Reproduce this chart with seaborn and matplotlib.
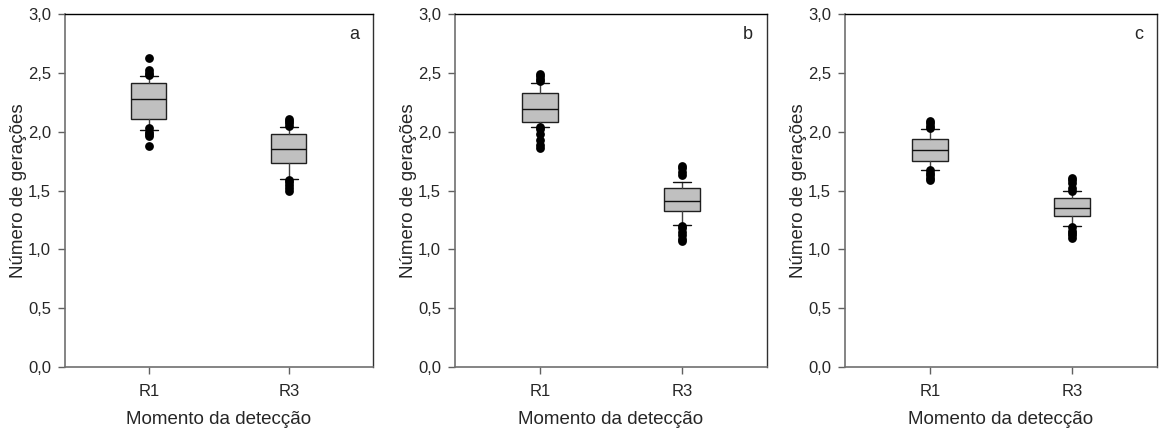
import matplotlib
matplotlib.use("Agg")
import matplotlib.pyplot as plt
import seaborn as sns
import numpy as np
import pandas as pd

sns.set_style("white")
plt.rcParams['font.family'] = ['Liberation Sans', 'DejaVu Sans']

categories = ["R1", "R3"]
panel_labels = ["a", "b", "c"]
y_ticks = [0.0, 0.5, 1.0, 1.5, 2.0, 2.5, 3.0]
y_tick_labels = ["0,0", "0,5", "1,0", "1,5", "2,0", "2,5", "3,0"]

# box statistics per panel: [R1, R3] -> (whislo, q1, med, q3, whishi)
stats_a = [(2.01, 2.11, 2.28, 2.415, 2.47), (1.595, 1.73, 1.85, 1.98, 2.04)]
stats_b = [(2.04, 2.08, 2.19, 2.325, 2.415), (1.21, 1.325, 1.415, 1.52, 1.57)]
stats_c = [(1.67, 1.75, 1.845, 1.935, 2.02), (1.20, 1.28, 1.355, 1.435, 1.495)]

# outliers per panel
out_a_r1 = [2.63, 2.52, 2.50, 2.48, 2.03, 2.00, 1.98, 1.96, 1.88]
out_a_r3 = [2.11, 2.09, 2.07, 2.05, 1.59, 1.57, 1.55, 1.52, 1.50]
out_b_r1 = [2.49, 2.47, 2.45, 2.43, 2.04, 2.02, 1.98, 1.93, 1.89, 1.86]
out_b_r3 = [1.71, 1.69, 1.66, 1.63, 1.20, 1.18, 1.15, 1.12, 1.09, 1.07]
out_c_r1 = [2.09, 2.07, 2.05, 2.03, 1.67, 1.65, 1.63, 1.61, 1.59]
out_c_r3 = [1.61, 1.59, 1.56, 1.52, 1.50, 1.19, 1.16, 1.14, 1.12, 1.10]

panels = [
    (stats_a, [out_a_r1, out_a_r3]),
    (stats_b, [out_b_r1, out_b_r3]),
    (stats_c, [out_c_r1, out_c_r3]),
]

fig = plt.figure(figsize=(11.6, 4.32), dpi=100)
lefts = [65 / 1160, 455 / 1160, 845 / 1160]
widths = [308 / 1160, 312 / 1160, 312 / 1160]
bottom = 1 - 367 / 432
height = 353 / 432

for i, (stats, outs) in enumerate(panels):
    ax = fig.add_axes([lefts[i], bottom, widths[i], height])
    bxp_stats = []
    for cat, s in zip(categories, stats):
        bxp_stats.append(dict(label=cat, whislo=s[0], q1=s[1], med=s[2], q3=s[3],
                              whishi=s[4], fliers=[]))
    ax.bxp(bxp_stats, positions=[0, 1], widths=0.25, patch_artist=True,
           showfliers=False,
           boxprops=dict(facecolor="#c0c0c0", edgecolor="#202020", linewidth=1.0),
           medianprops=dict(color="#101010", linewidth=1.0),
           whiskerprops=dict(color="#404040", linewidth=1.0),
           capprops=dict(color="#101010", linewidth=1.0),
           capwidths=0.13)
    df = pd.DataFrame({
        "x": [0] * len(outs[0]) + [1] * len(outs[1]),
        "y": list(outs[0]) + list(outs[1]),
    })
    sns.scatterplot(data=df, x="x", y="y", ax=ax, color="black", s=40,
                    edgecolor="black", linewidth=0, zorder=5, legend=False)
    ax.set_xlim(-0.6, 1.6)
    ax.set_ylim(0, 3.0)
    ax.set_xticks([0, 1])
    ax.set_xticklabels(categories, fontsize=12)
    ax.set_yticks(y_ticks)
    ax.set_yticklabels(y_tick_labels, fontsize=12)
    ax.set_xlabel("Momento da detecção", fontsize=13.5, labelpad=9)
    ax.set_ylabel("Número de gerações", fontsize=13.5, labelpad=1)
    ax.tick_params(axis="both", which="both", direction="out", length=5,
                   width=1, color="#606060", left=True, bottom=True)
    ax.tick_params(axis="y", pad=5)
    ax.tick_params(axis="x", pad=7)
    for side in ["left", "bottom"]:
        ax.spines[side].set_color("#707070")
        ax.spines[side].set_linewidth(1.2)
    ax.spines["top"].set_color("black")
    ax.spines["right"].set_color("#303030")
    for side in ["top", "right"]:
        ax.spines[side].set_linewidth(1.0)
    ax.text(0.955, 0.965, panel_labels[i], transform=ax.transAxes,
            ha="right", va="top", fontsize=13)

fig.savefig("out.png", dpi=100)
